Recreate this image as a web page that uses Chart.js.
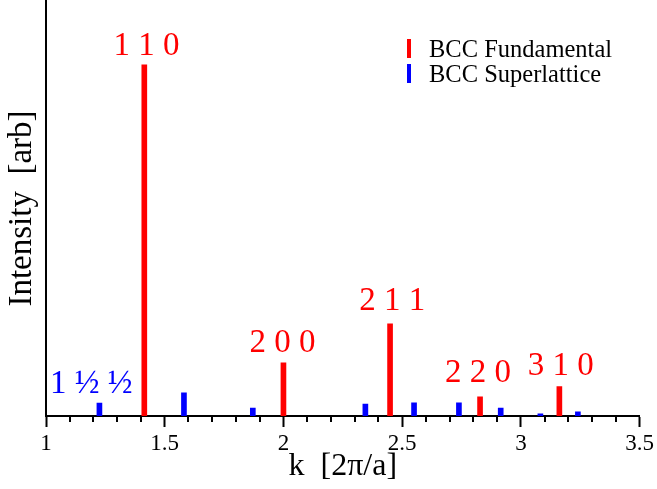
<!DOCTYPE html>
<html>
<head>
<meta charset="utf-8">
<script src="https://cdn.jsdelivr.net/npm/chart.js@4.4.0/dist/chart.umd.min.js"></script>
<style>
  html, body { margin: 0; padding: 0; background: #fff; }
  #wrap { width: 657px; height: 489px; }
</style>
</head>
<body>
<div id="wrap"><canvas id="chart" width="657" height="489"></canvas></div>
<script>
// peak positions k [2pi/a] and intensities (arb)
const fundamentalK = [1.414, 2.0, 2.449, 2.828, 3.162];
const fundamentalI = [84.6, 12.8, 22.2, 4.6, 7.1];
const superK = [1.225, 1.581, 1.871, 2.345, 2.550, 2.739, 2.915, 3.082, 3.240];
const superI = [3.1, 5.6, 1.9, 2.9, 3.2, 3.2, 1.9, 0.5, 1.0];

// Miller index labels: text, centre k, baseline height in intensity units
const peakLabels = ['1 1 0', '2 0 0', '2 1 1', '2 2 0', '3 1 0', '1 \u00BD \u00BD'];
const peakLabelK = [1.423, 1.996, 2.458, 2.819, 3.168, 1.191];
const peakLabelI = [87.0, 15.4, 25.5, 8.2, 9.9, 5.5];
const peakLabelColor = ['#ff0000', '#ff0000', '#ff0000', '#ff0000', '#ff0000', '#0000ff'];

const seriesNames = ['BCC Fundamental', 'BCC Superlattice'];
const seriesColors = ['#ff0000', '#0000ff'];

const serif = "'Liberation Serif', 'Times New Roman', serif";

function toPoints(xs, ys) {
  return xs.map((x, i) => ({ x: x, y: ys[i] }));
}

// minor ticks, peak labels and legend
const extras = {
  id: 'extras',
  afterDraw(chart) {
    const ctx = chart.ctx;
    const xs = chart.scales.x;
    const ys = chart.scales.y;
    const base = chart.chartArea.bottom;

    ctx.save();
    ctx.strokeStyle = '#000';
    ctx.lineWidth = 2;
    for (let i = 11; i < 35; i++) {
      if (i % 5 === 0) continue;
      const px = Math.round(xs.getPixelForValue(i / 10));
      ctx.beginPath();
      ctx.moveTo(px, base);
      ctx.lineTo(px, base + 6);
      ctx.stroke();
    }

    ctx.font = '33px ' + serif;
    ctx.textAlign = 'center';
    ctx.textBaseline = 'alphabetic';
    peakLabels.forEach((t, i) => {
      ctx.fillStyle = peakLabelColor[i];
      ctx.fillText(t, xs.getPixelForValue(peakLabelK[i]), ys.getPixelForValue(peakLabelI[i]));
    });

    ctx.font = '24.5px ' + serif;
    ctx.textAlign = 'left';
    seriesNames.forEach((name, i) => {
      const top = 39 + i * 25;
      ctx.fillStyle = seriesColors[i];
      ctx.fillRect(407, top, 4, 19);
      ctx.fillStyle = '#000';
      ctx.fillText(name, 429, top + 18);
    });
    ctx.restore();
  }
};

new Chart(document.getElementById('chart'), {
  type: 'bar',
  data: {
    datasets: [
      {
        label: seriesNames[0],
        data: toPoints(fundamentalK, fundamentalI),
        backgroundColor: seriesColors[0],
        barThickness: 5,
        grouped: false
      },
      {
        label: seriesNames[1],
        data: toPoints(superK, superI),
        backgroundColor: seriesColors[1],
        barThickness: 5,
        grouped: false
      }
    ]
  },
  options: {
    responsive: false,
    animation: false,
    layout: { padding: { top: 1, right: 16, left: 0, bottom: 0 } },
    plugins: { legend: { display: false }, tooltip: { enabled: false } },
    scales: {
      x: {
        type: 'linear',
        offset: false,
        min: 1,
        max: 3.5,
        afterFit: s => { s.height = 73; },
        ticks: {
          stepSize: 0.5, color: '#000', padding: 3, maxRotation: 0,
          font: { family: serif, size: 23 },
          callback: v => String(v)
        },
        grid: { display: true, offset: false, drawOnChartArea: false, drawTicks: true, tickLength: 11, tickColor: '#000', tickWidth: 2 },
        border: { display: true, color: '#000', width: 2 },
        title: { display: true, text: 'k  [2\u03C0/a]', color: '#000', padding: { top: 0, bottom: 3 }, font: { family: serif, size: 32 } }
      },
      y: {
        min: 0,
        max: 100,
        afterFit: s => { s.width = 46; },
        ticks: { display: false },
        grid: { display: false },
        border: { display: true, color: '#000', width: 2 },
        title: { display: true, text: 'Intensity  [arb]', color: '#000', padding: { top: 3, bottom: 0 }, font: { family: serif, size: 33 } }
      }
    }
  },
  plugins: [extras]
});
</script>
</body>
</html>
